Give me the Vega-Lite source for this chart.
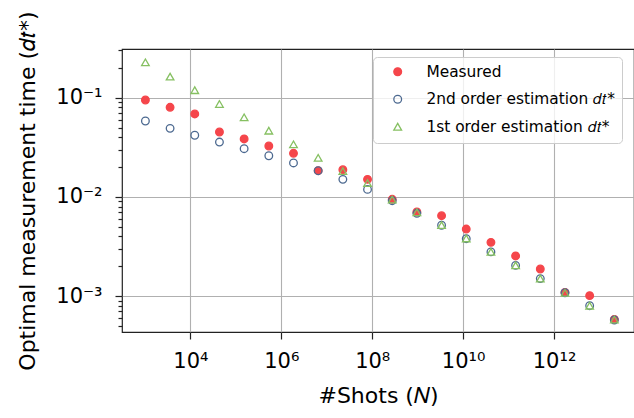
{
  "$schema": "https://vega.github.io/schema/vega-lite/v6.json",
  "width": 512,
  "height": 283,
  "autosize": {"type": "none"},
  "padding": {"left": 122, "top": 49, "right": 0, "bottom": 86},
  "config": {
    "font": "DejaVu Sans",
    "view": {"stroke": "#222222", "strokeWidth": 1.2},
    "axis": {
      "labelFont": "DejaVu Sans",
      "labelFontSize": 21,
      "labelColor": "#000000",
      "titleFont": "DejaVu Sans",
      "titleFontSize": 22,
      "titleFontWeight": "normal",
      "titleColor": "#000000",
      "domain": false,
      "tickColor": "#222222",
      "tickWidth": 1.2,
      "gridColor": "#b0b0b0",
      "gridWidth": 1.1
    },
    "legend": {
      "labelFont": "DejaVu Sans",
      "labelFontSize": 15.4,
      "labelColor": "#000000",
      "labelLimit": 400,
      "padding": 7,
      "rowPadding": 10.5,
      "symbolOffset": 10,
      "labelOffset": 21,
      "symbolSize": 60,
      "symbolStrokeWidth": 1.3,
      "fillColor": "rgba(255,255,255,0.8)",
      "strokeColor": "#cccccc",
      "cornerRadius": 4
    }
  },
  "data": {
    "values": [
      {"shots": 1023, "series": "Measured", "dt": 0.0948},
      {"shots": 3573, "series": "Measured", "dt": 0.080},
      {"shots": 12474, "series": "Measured", "dt": 0.0686},
      {"shots": 43551, "series": "Measured", "dt": 0.0451},
      {"shots": 152055, "series": "Measured", "dt": 0.0384},
      {"shots": 530884, "series": "Measured", "dt": 0.0326},
      {"shots": 1853532, "series": "Measured", "dt": 0.0275},
      {"shots": 6471426, "series": "Measured", "dt": 0.01836},
      {"shots": 22594357, "series": "Measured", "dt": 0.0188},
      {"shots": 78885800, "series": "Measured", "dt": 0.01503},
      {"shots": 275423000, "series": "Measured", "dt": 0.00946},
      {"shots": 961612000, "series": "Measured", "dt": 0.00705},
      {"shots": 3357400000, "series": "Measured", "dt": 0.00646},
      {"shots": 11722000000, "series": "Measured", "dt": 0.00474},
      {"shots": 40926000000, "series": "Measured", "dt": 0.00348},
      {"shots": 142890000000, "series": "Measured", "dt": 0.00254},
      {"shots": 498880000000, "series": "Measured", "dt": 0.001875},
      {"shots": 1741800000000, "series": "Measured", "dt": 0.00109},
      {"shots": 6081400000000, "series": "Measured", "dt": 0.00101},
      {"shots": 21232000000000, "series": "Measured", "dt": 0.000583},
      {"shots": 1023, "series": "2nd order estimation 𝑑𝑡*", "dt": 0.0582},
      {"shots": 3573, "series": "2nd order estimation 𝑑𝑡*", "dt": 0.0491},
      {"shots": 12474, "series": "2nd order estimation 𝑑𝑡*", "dt": 0.0418},
      {"shots": 43551, "series": "2nd order estimation 𝑑𝑡*", "dt": 0.0357},
      {"shots": 152055, "series": "2nd order estimation 𝑑𝑡*", "dt": 0.0306},
      {"shots": 530884, "series": "2nd order estimation 𝑑𝑡*", "dt": 0.0260},
      {"shots": 1853532, "series": "2nd order estimation 𝑑𝑡*", "dt": 0.0220},
      {"shots": 6471426, "series": "2nd order estimation 𝑑𝑡*", "dt": 0.01836},
      {"shots": 22594357, "series": "2nd order estimation 𝑑𝑡*", "dt": 0.01503},
      {"shots": 78885800, "series": "2nd order estimation 𝑑𝑡*", "dt": 0.0119},
      {"shots": 275423000, "series": "2nd order estimation 𝑑𝑡*", "dt": 0.00916},
      {"shots": 961612000, "series": "2nd order estimation 𝑑𝑡*", "dt": 0.00683},
      {"shots": 3357400000, "series": "2nd order estimation 𝑑𝑡*", "dt": 0.00518},
      {"shots": 11722000000, "series": "2nd order estimation 𝑑𝑡*", "dt": 0.00379},
      {"shots": 40926000000, "series": "2nd order estimation 𝑑𝑡*", "dt": 0.00279},
      {"shots": 142890000000, "series": "2nd order estimation 𝑑𝑡*", "dt": 0.00204},
      {"shots": 498880000000, "series": "2nd order estimation 𝑑𝑡*", "dt": 0.0015},
      {"shots": 1741800000000, "series": "2nd order estimation 𝑑𝑡*", "dt": 0.00108},
      {"shots": 6081400000000, "series": "2nd order estimation 𝑑𝑡*", "dt": 0.0008},
      {"shots": 21232000000000, "series": "2nd order estimation 𝑑𝑡*", "dt": 0.000574},
      {"shots": 1023, "series": "1st order estimation 𝑑𝑡*", "dt": 0.2275},
      {"shots": 3573, "series": "1st order estimation 𝑑𝑡*", "dt": 0.163},
      {"shots": 12474, "series": "1st order estimation 𝑑𝑡*", "dt": 0.119},
      {"shots": 43551, "series": "1st order estimation 𝑑𝑡*", "dt": 0.0864},
      {"shots": 152055, "series": "1st order estimation 𝑑𝑡*", "dt": 0.0634},
      {"shots": 530884, "series": "1st order estimation 𝑑𝑡*", "dt": 0.0465},
      {"shots": 1853532, "series": "1st order estimation 𝑑𝑡*", "dt": 0.0339},
      {"shots": 6471426, "series": "1st order estimation 𝑑𝑡*", "dt": 0.0248},
      {"shots": 22594357, "series": "1st order estimation 𝑑𝑡*", "dt": 0.01824},
      {"shots": 78885800, "series": "1st order estimation 𝑑𝑡*", "dt": 0.0138},
      {"shots": 275423000, "series": "1st order estimation 𝑑𝑡*", "dt": 0.0094},
      {"shots": 961612000, "series": "1st order estimation 𝑑𝑡*", "dt": 0.0070},
      {"shots": 3357400000, "series": "1st order estimation 𝑑𝑡*", "dt": 0.00519},
      {"shots": 11722000000, "series": "1st order estimation 𝑑𝑡*", "dt": 0.00381},
      {"shots": 40926000000, "series": "1st order estimation 𝑑𝑡*", "dt": 0.00279},
      {"shots": 142890000000, "series": "1st order estimation 𝑑𝑡*", "dt": 0.00204},
      {"shots": 498880000000, "series": "1st order estimation 𝑑𝑡*", "dt": 0.0015},
      {"shots": 1741800000000, "series": "1st order estimation 𝑑𝑡*", "dt": 0.00108},
      {"shots": 6081400000000, "series": "1st order estimation 𝑑𝑡*", "dt": 0.0008},
      {"shots": 21232000000000, "series": "1st order estimation 𝑑𝑡*", "dt": 0.00058}
    ]
  },
  "mark": {"type": "point", "strokeWidth": 1.3, "opacity": 1},
  "encoding": {
    "x": {
      "field": "shots",
      "type": "quantitative",
      "scale": {"type": "log", "domain": [312.6, 57500000000000], "nice": false, "zero": false},
      "axis": {
        "title": "#Shots (𝑁)",
        "values": [10000, 1000000, 100000000, 10000000000, 1000000000000],
        "labelExpr": "'10' + replace(replace(replace(replace(replace(replace(replace(replace(replace(replace(replace('' + round(log(datum.value)/LN10), '-', '⁻'), '0', '⁰'), '1', '¹'), '2', '²'), '3', '³'), '4', '⁴'), '5', '⁵'), '6', '⁶'), '7', '⁷'), '8', '⁸'), '9', '⁹')",
        "tickSize": 7,
        "labelPadding": 11,
        "titlePadding": 14,
        "labelFlush": false,
        "labelOverlap": false
      }
    },
    "y": {
      "field": "dt",
      "type": "quantitative",
      "scale": {"type": "log", "domain": [0.0004345, 0.3097], "nice": false, "zero": false},
      "axis": {
        "title": "Optimal measurement time (𝑑𝑡*)",
        "values": [0.0005, 0.0006, 0.0007, 0.0008, 0.0009, 0.001, 0.002, 0.003, 0.004, 0.005, 0.006, 0.007, 0.008, 0.009, 0.01, 0.02, 0.03, 0.04, 0.05, 0.06, 0.07, 0.08, 0.09, 0.1, 0.2, 0.3],
        "labelExpr": "abs(log(datum.value)/LN10 - round(log(datum.value)/LN10)) > 0.001 ? '' : '10' + replace(replace(replace(replace(replace(replace(replace(replace(replace(replace(replace('' + round(log(datum.value)/LN10), '-', '⁻'), '0', '⁰'), '1', '¹'), '2', '²'), '3', '³'), '4', '⁴'), '5', '⁵'), '6', '⁶'), '7', '⁷'), '8', '⁸'), '9', '⁹')",
        "tickSize": {"condition": {"test": "abs(log(datum.value)/LN10 - round(log(datum.value)/LN10)) < 0.001", "value": 7}, "value": 4},
        "gridOpacity": {"condition": {"test": "abs(log(datum.value)/LN10 - round(log(datum.value)/LN10)) < 0.001", "value": 1}, "value": 0},
        "labelPadding": 13,
        "titlePadding": 16,
        "labelFlush": false,
        "labelOverlap": false
      }
    },
    "fill": {
      "field": "series",
      "type": "nominal",
      "scale": {"domain": ["Measured", "2nd order estimation 𝑑𝑡*", "1st order estimation 𝑑𝑡*"], "range": ["#f5464b", "transparent", "transparent"]},
      "legend": {"title": null, "orient": "none", "legendX": 251, "legendY": 8}
    },
    "stroke": {
      "field": "series",
      "type": "nominal",
      "scale": {"domain": ["Measured", "2nd order estimation 𝑑𝑡*", "1st order estimation 𝑑𝑡*"], "range": ["#f5464b", "#4c6990", "#86c062"]},
      "legend": {"title": null, "orient": "none", "legendX": 251, "legendY": 8}
    },
    "shape": {
      "field": "series",
      "type": "nominal",
      "scale": {"domain": ["Measured", "2nd order estimation 𝑑𝑡*", "1st order estimation 𝑑𝑡*"], "range": ["circle", "circle", "triangle-up"]},
      "legend": {"title": null, "orient": "none", "legendX": 251, "legendY": 8}
    },
    "size": {"value": 58}
  }
}
